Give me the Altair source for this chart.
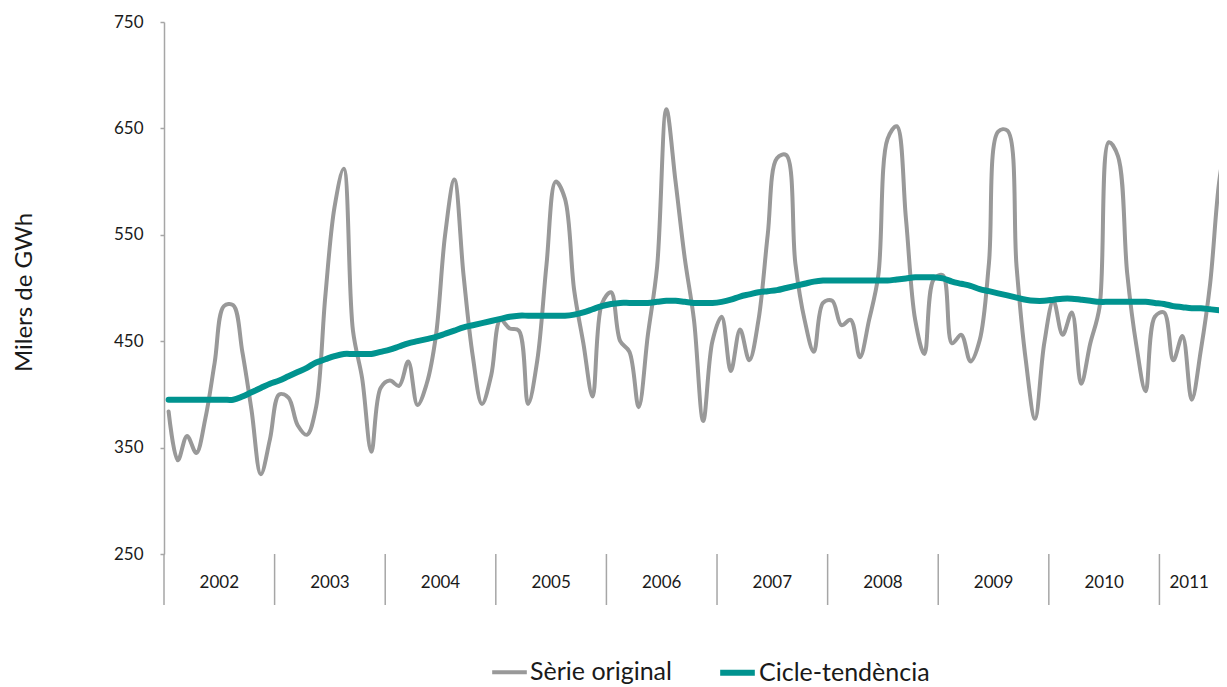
import altair as alt
import pandas as pd

# ---- data (monthly, Jan 2002 onward) ----
SERIES = ["Sèrie original", "Cicle-tendència"]
YEARS = [2002, 2003, 2004, 2005, 2006, 2007, 2008, 2009, 2010, 2011]

serie_original = [
    384, 338, 361, 345, 378, 430, 483, 484, 440, 385, 325, 358,   # 2002
    400, 397, 371, 362, 388, 492, 576, 612, 460, 415, 346, 406,   # 2003
    413, 408, 431, 390, 410, 455, 550, 602, 512, 436, 391, 418,   # 2004
    470, 462, 460, 391, 432, 522, 600, 584, 498, 448, 398, 485,   # 2005
    496, 450, 440, 388, 456, 520, 668, 600, 528, 470, 375, 450,   # 2006
    473, 422, 461, 432, 470, 550, 622, 625, 523, 470, 440, 486,   # 2007
    488, 465, 470, 435, 470, 512, 640, 652, 565, 470, 438, 508,   # 2008
    512, 448, 456, 431, 451, 523, 647, 648, 520, 432, 377, 448,   # 2009
    488, 456, 477, 410, 448, 482, 637, 624, 514, 446, 403, 473,   # 2010
    477, 432, 455, 395, 442, 504, 601, 650,                       # 2011
]
cicle_tendencia = [
    395, 395, 395, 395, 395, 395, 395, 395, 398, 402, 406, 410,
    413, 417, 421, 425, 430, 433, 436, 438, 438, 438, 438, 440,
    442, 445, 448, 450, 452, 454, 457, 460, 463, 465, 467, 469,
    471, 473, 474, 474, 474, 474, 474, 474, 475, 477, 480, 483,
    485, 486, 486, 486, 486, 487, 488, 488, 487, 486, 486, 486,
    487, 489, 492, 494, 496, 497, 498, 500, 502, 504, 506, 507,
    507, 507, 507, 507, 507, 507, 507, 508, 509, 510, 510, 510,
    509, 506, 504, 502, 499, 497, 495, 493, 491, 489, 488, 488,
    489, 490, 490, 489, 488, 487, 487, 487, 487, 487, 487, 486,
    485, 483, 482, 481, 481, 480, 479, 478,
]
Y_TICKS = [250, 350, 450, 550, 650, 750]

PLOT_W = 1055
XMAX = PLOT_W / 9.217  # visible months in the (cropped) reference

rows = []
for name, vals in zip(SERIES, [serie_original, cicle_tendencia]):
    for i, v in enumerate(vals):
        rows.append({"series": name, "t": i + 0.5, "value": v})
df = pd.DataFrame(rows)

yr = pd.DataFrame({"year": [str(y) for y in YEARS]})
yr["start"] = [(y - YEARS[0]) * 12 for y in YEARS]
yr["mid"] = [(s + min(s + 12, XMAX)) / 2 for s in yr["start"]]

FONT = "Lato"
GREY = "#999999"
TEAL = "#00938f"
AXIS_C = "#a6a6a6"

xscale = alt.Scale(domain=[0, XMAX], nice=False, zero=False)
yscale = alt.Scale(domain=[250, 750], nice=False, zero=False)
cscale = alt.Scale(domain=SERIES, range=[GREY, TEAL])
wscale = alt.Scale(domain=SERIES, range=[4, 6])

legend = alt.Legend(
    title=None, orient="none", legendX=326, legendY=630, direction="horizontal",
    symbolType="stroke", symbolSize=1200, labelFont=FONT, labelFontSize=25,
    labelColor="#1a1a1a", columnPadding=36, labelOffset=1, padding=0,
    symbolStrokeWidth=5, labelLimit=400,
)

x_enc = alt.X("t:Q", scale=xscale,
              axis=alt.Axis(domain=True, domainColor=AXIS_C, domainWidth=1.5,
                            ticks=False, labels=False, grid=False, title=None))
y_enc = alt.Y("value:Q", scale=yscale,
              axis=alt.Axis(values=Y_TICKS, grid=False, domainColor=AXIS_C,
                            domainWidth=1.5, tickColor=AXIS_C, tickWidth=1.5,
                            tickSize=4, labelPadding=17, labelFont=FONT,
                            labelFontSize=17, labelColor="#1a1a1a",
                            title="Milers de GWh", titleFont=FONT,
                            titleFontSize=24, titleFontWeight="normal",
                            titleColor="#1a1a1a", titleAngle=270,
                            titleAlign="center", titleBaseline="middle",
                            titleX=-140, titleY=270))


def series_layer(name):
    return alt.Chart(df).transform_filter(
        alt.datum.series == name
    ).mark_line(clip=True, interpolate="catmull-rom", strokeCap="round",
                strokeJoin="round").encode(
        x=x_enc, y=y_enc,
        color=alt.Color("series:N", scale=cscale, legend=legend,
                        sort=SERIES),
        strokeWidth=alt.StrokeWidth("series:N", scale=wscale, legend=legend,
                                    sort=SERIES),
    )


dividers = alt.Chart(yr).mark_rule(color=AXIS_C, strokeWidth=1.5).encode(
    x=alt.X("start:Q", scale=xscale, axis=None),
    y=alt.value(532), y2=alt.value(583),
)
labels = alt.Chart(yr).mark_text(font=FONT, fontSize=17, color="#1a1a1a",
                                 baseline="middle", align="center").encode(
    x=alt.X("mid:Q", scale=xscale, axis=None),
    y=alt.value(561), text="year:N",
)

chart = alt.layer(
    series_layer(SERIES[0]), series_layer(SERIES[1]), dividers, labels
).properties(
    width=PLOT_W, height=532,
    autosize=alt.AutoSizeParams(type="none"),
    padding={"left": 156, "top": 14, "right": 0, "bottom": 131},
    background="white",
).configure_view(stroke=None)

chart.save("out.html", embed_options={"renderer": "svg", "actions": False})
